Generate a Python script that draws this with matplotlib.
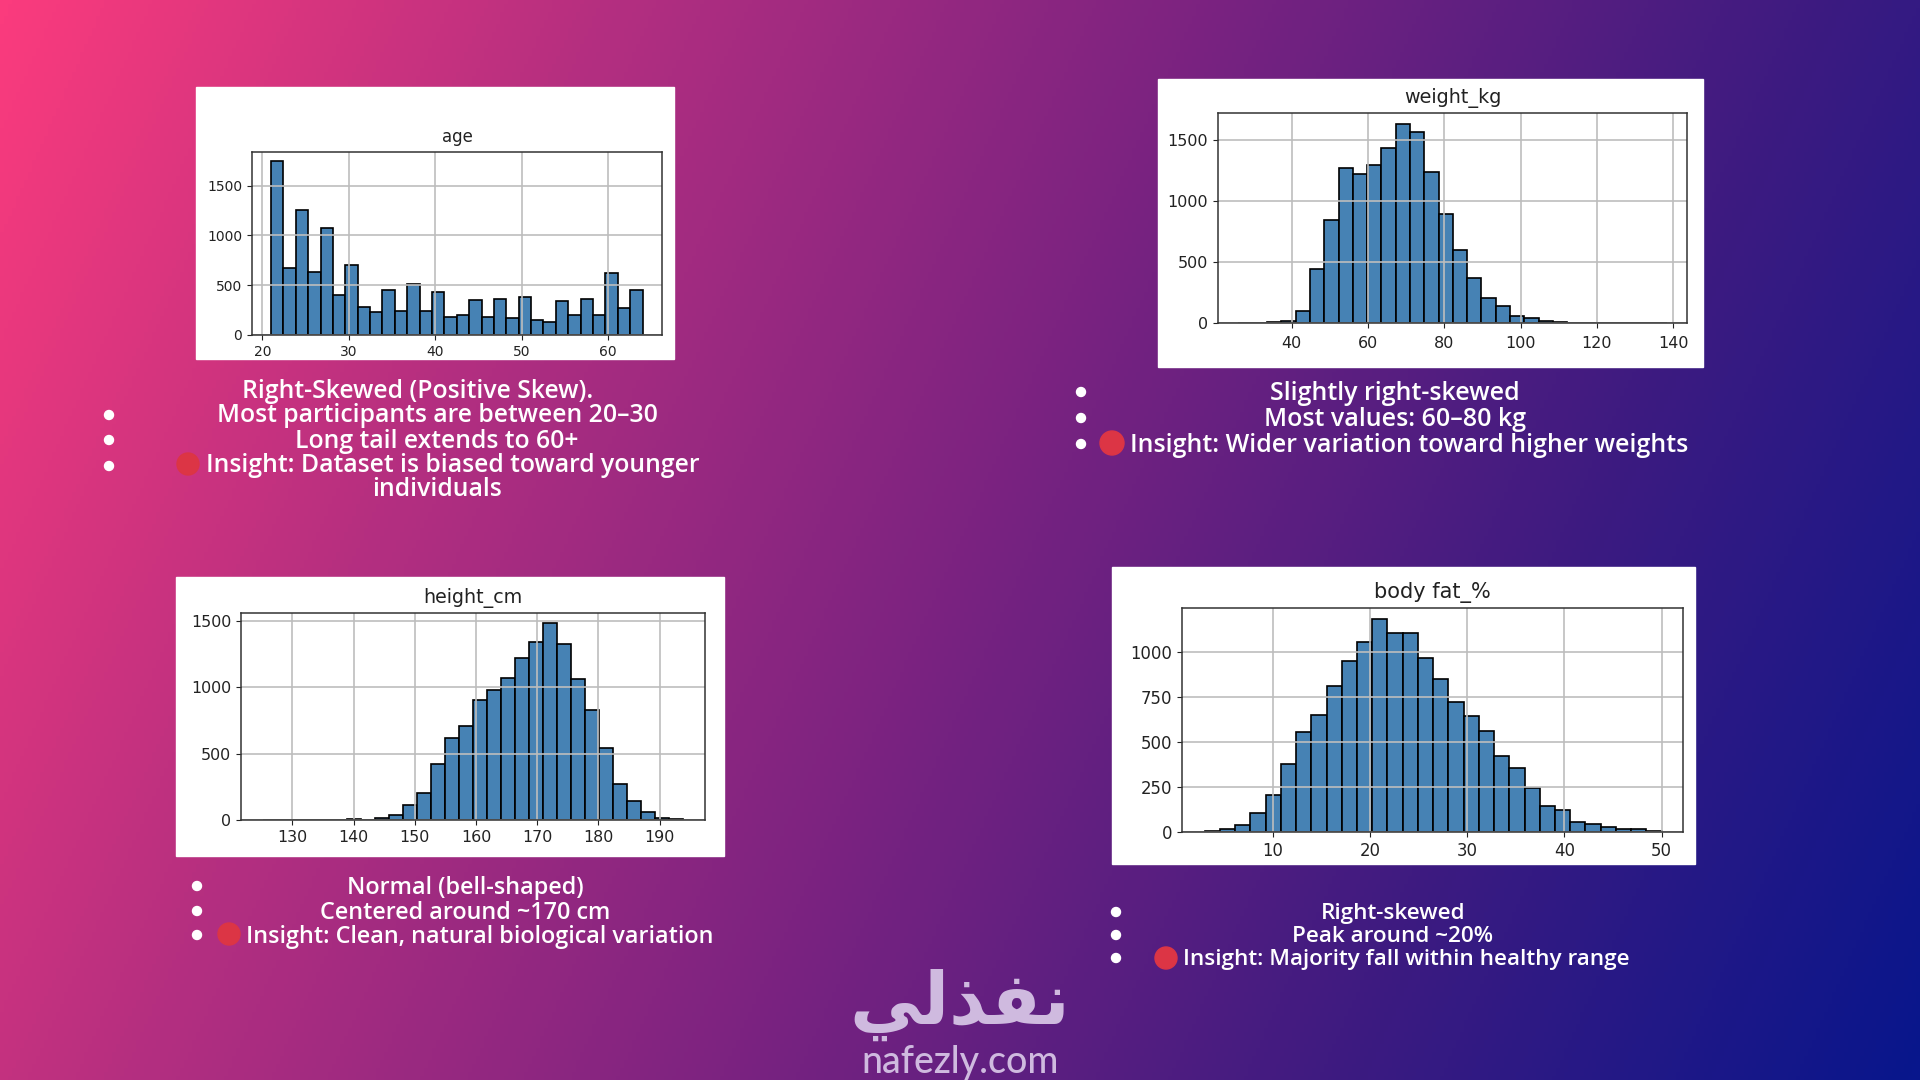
import matplotlib
matplotlib.use('Agg')
import matplotlib.pyplot as plt
from matplotlib.colors import LinearSegmentedColormap
from matplotlib.patches import Rectangle, Ellipse
import numpy as np

W, H = 1920, 1080

# counts (30 bins each)
age_counts = [1746, 669, 1261, 632, 1077, 405, 706, 281, 227, 448, 237, 508, 241, 428, 177,
              197, 355, 177, 365, 167, 385, 147, 134, 344, 197, 365, 197, 622, 271, 448]
age_range = (21, 64)
weight_counts = [1, 2, 10, 20, 98, 447, 843, 1268, 1219, 1295, 1432, 1636, 1568, 1238, 892,
                 600, 368, 205, 139, 60, 41, 18, 10, 2, 1, 1, 0, 0, 0, 1]
weight_range = (26, 138.5)
height_counts = [1, 1, 1, 1, 1, 1, 8, 2, 18, 35, 115, 200, 420, 615, 711,
                 905, 982, 1070, 1218, 1342, 1482, 1324, 1060, 832, 545, 271, 141, 63, 18, 8]
height_range = (125.2, 193.8)
fat_counts = [7, 17, 37, 106, 204, 378, 555, 651, 814, 954, 1058, 1184, 1106, 1106, 968,
              853, 722, 646, 560, 421, 358, 247, 147, 121, 58, 43, 30, 17, 15, 7]
fat_range = (3, 50)

age_lines = ['Right-Skewed (Positive Skew).', 'Most participants are between 20–30',
             'Long tail extends to 60+', 'Insight: Dataset is biased toward younger', 'individuals']
weight_lines = ['Slightly right-skewed', 'Most values: 60–80 kg',
                'Insight: Wider variation toward higher weights']
height_lines = ['Normal (bell-shaped)', 'Centered around ~170 cm',
                'Insight: Clean, natural biological variation']
fat_lines = ['Right-skewed', 'Peak around ~20%',
             'Insight: Majority fall within healthy range']

plt.rcParams['font.family'] = 'DejaVu Sans'
TEXT_FONT = 'Open Sans'
LOGO_COLOR = '#cfbadf'

fig = plt.figure(figsize=(W / 100, H / 100), dpi=100)
bg = fig.add_axes([0, 0, 1, 1])
bg.set_xlim(0, W)
bg.set_ylim(H, 0)
bg.axis('off')

# diagonal background
yy, xx = np.mgrid[0:1:270j, 0:1:480j]
grad = (xx * 0.8 + yy * 0.2)
cmap = LinearSegmentedColormap.from_list('bg', [(0, '#fb3b7d'), (0.25, '#b52f80'), (0.5, '#7c2380'),
                                                (0.75, '#3f1b80'), (1, '#08168c')])
bg.imshow(grad, cmap=cmap, extent=(0, W, H, 0), aspect='auto', vmin=0, vmax=1, zorder=0)
bg.set_xlim(0, W)
bg.set_ylim(H, 0)


def hist_panel(box, axbox, counts, rng, xlim, ylim, xticks, yticks, title, ts, fs, title_pad, x_pad=3.5):
    # box and axbox are left, top, right, bottom in pixels
    bg.add_patch(Rectangle((box[0], box[1]), box[2] - box[0], box[3] - box[1], color='white', zorder=1))
    ax = fig.add_axes([axbox[0] / W, 1 - axbox[3] / H, (axbox[2] - axbox[0]) / W, (axbox[3] - axbox[1]) / H])
    edges = np.linspace(rng[0], rng[1], len(counts) + 1)
    ax.bar(edges[:-1], counts, width=np.diff(edges), align='edge', color='#4682b4', edgecolor='black', linewidth=1.2)
    ax.grid(True, color='#bdbdbd', linewidth=1.2)
    ax.set_xlim(*xlim)
    ax.set_ylim(*ylim)
    ax.set_xticks(xticks)
    ax.set_yticks(yticks)
    ax.tick_params(labelsize=fs, colors='#222222')
    ax.tick_params(axis='x', pad=x_pad)
    ax.set_title(title, fontsize=ts, color='#222222', pad=title_pad)
    for s in ax.spines.values():
        s.set_color('#333333')
        s.set_linewidth(1.1)


hist_panel((196, 87, 674, 359), (252, 152, 662, 335), age_counts, age_range, (18.8, 66.25), (0, 1839),
           [20, 30, 40, 50, 60], [0, 500, 1000, 1500], 'age', 12, 10, 7)
hist_panel((1158, 79, 1703, 367), (1218, 113, 1687, 323), weight_counts, weight_range, (20.64, 143.65), (0, 1723),
           [40, 60, 80, 100, 120, 140], [0, 500, 1000, 1500], 'weight_kg', 13.8, 11.5, 7.5, x_pad=5.5)
hist_panel((176, 577, 724, 856), (241, 613, 705, 820), height_counts, height_range, (121.6, 197.4), (0, 1560),
           [130, 140, 150, 160, 170, 180, 190], [0, 500, 1000, 1500], 'height_cm', 13.7, 11.4, 7.5, x_pad=4)
hist_panel((1112, 567, 1695, 864), (1182, 608, 1683, 832), fat_counts, fat_range, (0.67, 52.2), (0, 1247),
           [10, 20, 30, 40, 50], [0, 250, 500, 750, 1000], 'body fat_%', 15, 11.9, 7.5)


def put(x, y, s, size, ha='center'):
    bg.text(x, y, s, fontsize=size, color='white', ha=ha, va='center', family=TEXT_FONT,
            weight='semibold', zorder=3)


def bullet(x, y):
    bg.add_patch(Ellipse((x, y), 9, 9, color='white', zorder=3))


def red_dot(x, y, d):
    bg.add_patch(Ellipse((x, y), d, d, color='#dc3545', zorder=3))


# age notes
size1 = 17.85
put(418, 391, age_lines[0], size1)
put(437, 416, age_lines[1], size1)
put(437, 441, age_lines[2], size1)
put(206, 466, age_lines[3], size1, ha='left')
put(437, 490, age_lines[4], size1)
for y in [415, 440, 466]:
    bullet(109, y)
red_dot(188, 464, 22)

# weight notes
size2 = 18
put(1395, 394, weight_lines[0], size2)
put(1395, 420, weight_lines[1], size2)
put(1130, 446, weight_lines[2], size2, ha='left')
for y in [392, 418, 444]:
    bullet(1081, y)
red_dot(1112, 443, 24)

# height notes
size3 = 16.8
put(465, 888, height_lines[0], size3)
put(465, 913, height_lines[1], size3)
put(246, 937, height_lines[2], size3, ha='left')
for y in [886, 911, 935]:
    bullet(197, y)
red_dot(229, 934, 22)

# body fat notes
size4 = 16.2
put(1393, 914, fat_lines[0], size4)
put(1393, 937, fat_lines[1], size4)
put(1183, 960, fat_lines[2], size4, ha='left')
for y in [912, 935, 958]:
    bullet(1116, y)
red_dot(1166, 958, 22)

# logo, Arabic written in shaped presentation forms, left to right
bg.text(960, 1005, '\ufef2\ufedf\ufeac\ufed4\ufee7', fontsize=52, color=LOGO_COLOR, ha='center', va='center',
        family='DejaVu Sans', weight='bold', zorder=3)
bg.text(960, 1062, 'nafezly.com', fontsize=27, color=LOGO_COLOR, ha='center', va='center',
        family='Lato', weight='medium', zorder=3)

fig.savefig('out.png', dpi=100)
